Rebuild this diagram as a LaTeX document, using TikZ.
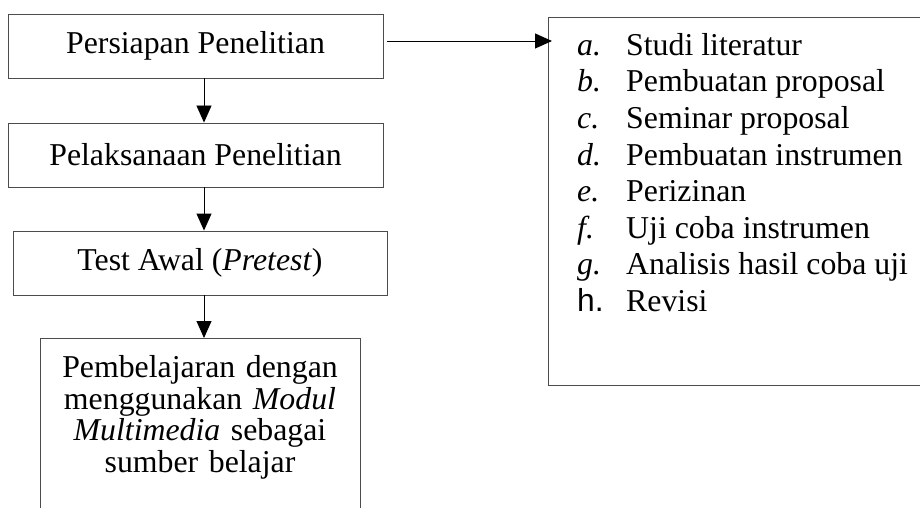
\documentclass[tikz,border=0pt]{standalone}
\usepackage{fontspec}
\setmainfont{Liberation Serif}
\newfontfamily\arialfont{Liberation Sans}
\usetikzlibrary{arrows.meta}
\begin{document}
\begin{tikzpicture}[x=1pt,y=-1pt,
  box/.style={draw=black!70, line width=0.9pt, rectangle, inner sep=0pt,
    font=\fontsize{31.8}{31.7}\selectfont},
  arr/.style={draw=black, line width=0.9pt, -{Triangle[length=17pt,width=15pt]}},
  listtext/.style={inner sep=0pt, anchor=north west,
    font=\fontsize{31.8}{36.6}\selectfont}]
\useasboundingbox (0,0) rectangle (920,508);
\fill[white] (0,0) rectangle (920,508);
\node[box, minimum width=375pt, minimum height=64pt] (b1) at (195.5,46) {Persiapan Penelitian};
\node[box, minimum width=375pt, minimum height=64pt] (b2) at (195.5,155) {Pelaksanaan Penelitian};
\node[box, minimum width=374pt, minimum height=64pt] (b3) at (200,263) {Test Awal (\textit{Pretest})};
\node[box, anchor=north, text width=320pt, align=center, inner ysep=17pt] (b4) at (200,338)
  {Pembelajaran dengan\\ menggunakan \textit{Modul}\\ \textit{Multimedia} sebagai\\ sumber belajar\\ \rule{0pt}{1pt}\rule[-20pt]{0pt}{20pt}};
\node[box, anchor=north west, minimum width=400pt, minimum height=368pt] (rb) at (548,17) {};
\node[listtext] (lst) at (577,29.5) {%
  \begin{tabular}{@{}p{49pt}@{}l@{}}
  \textit{a.} & Studi literatur\\
  \textit{b.} & Pembuatan proposal\\
  \textit{c.} & Seminar proposal\\
  \textit{d.} & Pembuatan instrumen\\
  \textit{e.} & Perizinan\\
  \textit{f.} & Uji coba instrumen\\
  \textit{g.} & Analisis hasil coba uji\\
  {\arialfont h.} & Revisi
  \end{tabular}};
\draw[arr] ([xshift=8.5pt]b1.south) -- ([xshift=8.5pt]b2.north);
\draw[arr] ([xshift=8.5pt]b2.south) -- ([xshift=4pt]b3.north);
\draw[arr] ([xshift=4pt]b3.south) -- ([xshift=4pt]b4.north);
\draw[arr] ([shift={(4pt,5pt)}]b1.east) -- ([shift={(4pt,5pt)}]b1.east -| rb.west);
\end{tikzpicture}
\end{document}
